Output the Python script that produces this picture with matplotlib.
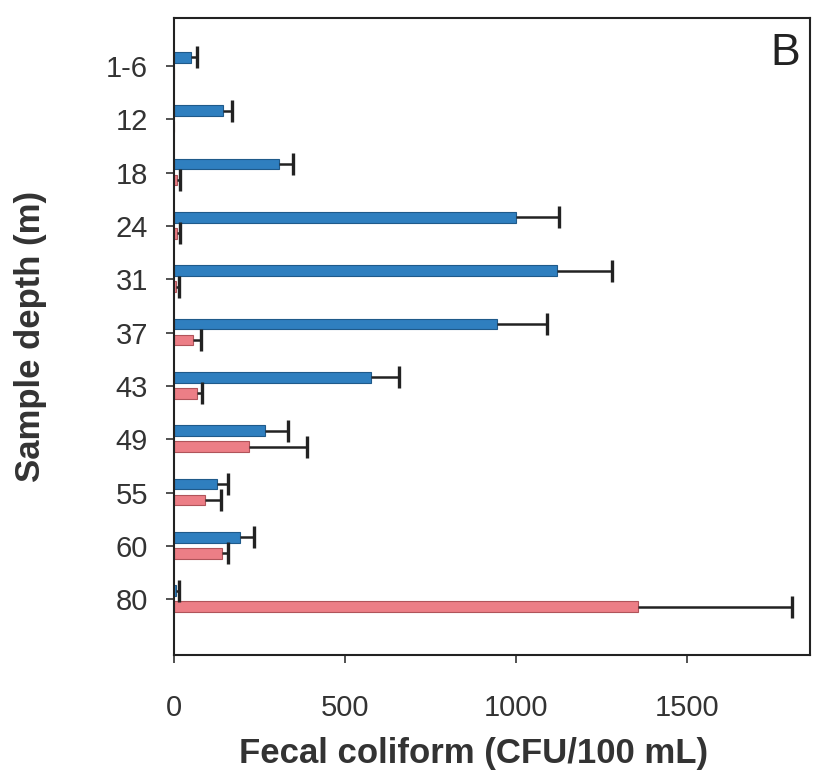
import numpy as np
import matplotlib.pyplot as plt

plt.rcParams['font.family'] = ['Liberation Sans', 'DejaVu Sans']

# sample depths (m)
depths = ['1-6', '12', '18', '24', '31', '37', '43', '49', '55', '60', '80']

# blue series
blue_vals = [50, 143, 305, 1000, 1120, 945, 576, 266, 125, 193, 5]
blue_err = [15, 27, 43, 125, 160, 145, 80, 67, 33, 41, 10]

# red series
red_vals = [0, 0, 8, 8, 5, 55, 65, 219, 91, 140, 1357]
red_err = [0, 0, 8, 8, 10, 23, 15, 170, 46, 18, 450]

blue = '#2f7fbf'
blue_edge = '#1f5a8a'
red = '#ec7e86'
red_edge = '#b0545a'

fig = plt.figure(figsize=(8.3, 7.8), dpi=100)
ax = fig.add_axes([0.21, 0.16, 0.766, 0.817])

y = np.arange(len(depths))
h = 0.2


def bars(pos, vals, errs, col, edge):
    ax.barh(pos, vals, height=h, color=col, edgecolor=edge, linewidth=0.8, zorder=2)
    # one-sided error bars: line from bar end, cap only at the outer end
    for p, v, e in zip(pos, vals, errs):
        if e <= 0:
            continue
        ax.hlines(p, v, v + e, color='#222222', linewidth=1.8, zorder=3)
        ax.plot([v + e], [p], marker='|', markersize=16, markeredgewidth=2.4,
                color='#222222', linestyle='none', zorder=3)


bars(y - 0.16, blue_vals, blue_err, blue, blue_edge)
bars(y + 0.14, red_vals, red_err, red, red_edge)

ax.set_ylim(len(depths) - 1 + 1.05, -0.9)
ax.set_xlim(0, 1860)
ax.set_yticks(y)
ax.set_yticklabels(depths)
ax.set_xticks([0, 500, 1000, 1500])

ax.tick_params(axis='both', colors='#333333', direction='out', width=1.2, labelsize=21)
ax.tick_params(axis='y', length=6, pad=13)
ax.tick_params(axis='x', length=6, pad=22)
for s in ax.spines.values():
    s.set_linewidth(1.5)
    s.set_color('#222222')

ax.set_xlabel('Fecal coliform (CFU/100 mL)', fontsize=25, fontweight='bold', color='#333333')
ax.set_ylabel('Sample depth (m)', fontsize=25, fontweight='bold', color='#333333')
ax.xaxis.set_label_coords(0.47, -0.128)
ax.yaxis.set_label_coords(-0.2, 0.5)

ax.text(0.984, 0.976, 'B', transform=ax.transAxes, fontsize=32, ha='right', va='top', color='#222222')

fig.savefig('out.png', dpi=100)
